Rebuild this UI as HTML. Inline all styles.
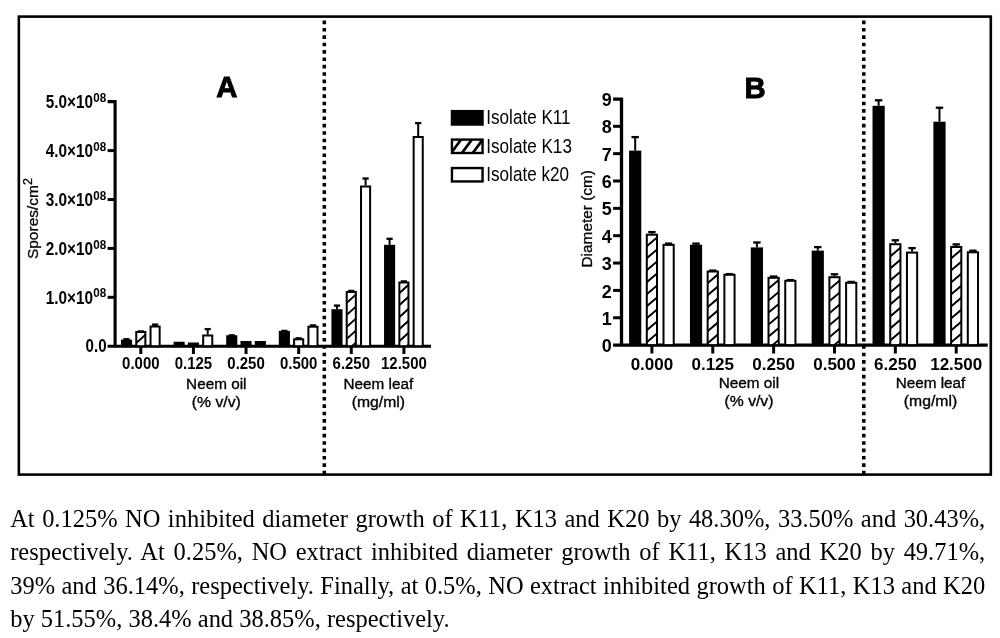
<!DOCTYPE html>
<html><head><meta charset="utf-8"><style>
html,body{margin:0;padding:0;background:#fff;width:1000px;height:638px;overflow:hidden;position:relative}
body{filter:grayscale(1)}
.ln{position:absolute;left:10.2px;width:974px;font-family:"Liberation Serif",serif;font-size:24.48px;line-height:33.1px;white-space:nowrap;color:#000}
.j{text-align:justify;text-align-last:justify;white-space:normal}
</style></head><body>
<svg width="1000" height="480" viewBox="0 0 1000 480" style="position:absolute;left:0;top:0">

<style>
text{font-family:"Liberation Sans",sans-serif;fill:#000}
.b{font-weight:bold}
</style>
<rect x="18.85" y="16.6" width="971.95" height="458" fill="none" stroke="#000" stroke-width="2.6"/><line x1="324.3" y1="20.55" x2="324.3" y2="474" stroke="#000" stroke-width="3.5" stroke-dasharray="3.6 3.78"/><line x1="863.8" y1="20.55" x2="863.8" y2="474" stroke="#000" stroke-width="3.5" stroke-dasharray="3.6 3.78"/><path d="M107.6,101.6 H115.1 V346.2 M107.6,346.2 H431" fill="none" stroke="#000" stroke-width="3.1"/><line x1="107.6" y1="297.3" x2="115" y2="297.3" stroke="#000" stroke-width="3"/><line x1="107.6" y1="248.4" x2="115" y2="248.4" stroke="#000" stroke-width="3"/><line x1="107.6" y1="199.5" x2="115" y2="199.5" stroke="#000" stroke-width="3"/><line x1="107.6" y1="150.6" x2="115" y2="150.6" stroke="#000" stroke-width="3"/><line x1="140.8" y1="346.2" x2="140.8" y2="354" stroke="#000" stroke-width="3"/><line x1="193.42" y1="346.2" x2="193.42" y2="354" stroke="#000" stroke-width="3"/><line x1="246.04" y1="346.2" x2="246.04" y2="354" stroke="#000" stroke-width="3"/><line x1="298.66" y1="346.2" x2="298.66" y2="354" stroke="#000" stroke-width="3"/><line x1="351.28" y1="346.2" x2="351.28" y2="354" stroke="#000" stroke-width="3"/><line x1="403.9" y1="346.2" x2="403.9" y2="354" stroke="#000" stroke-width="3"/><line x1="126.5" y1="339.6" x2="126.5" y2="339.2" stroke="#000" stroke-width="2"/>
<line x1="123.4" y1="339.2" x2="129.6" y2="339.2" stroke="#000" stroke-width="2.3"/>
<rect x="121.95" y="340.6" width="9.1" height="5.6" fill="#000"/>
<rect x="121.95" y="340.6" width="9.1" height="5.6" fill="none" stroke="#000" stroke-width="2.0"/>
<line x1="140.8" y1="331" x2="140.8" y2="331.4" stroke="#000" stroke-width="2"/>
<line x1="137.7" y1="331.4" x2="143.9" y2="331.4" stroke="#000" stroke-width="2.3"/>
<rect x="136.25" y="332" width="9.1" height="14.2" fill="#fff"/>
<path d="M134.25,332.85L147.35,321.06M134.25,344.85L147.35,333.06M134.25,356.85L147.35,345.06" stroke="#000" stroke-width="2" clip-path="url(#ca0)"/>
<rect x="136.25" y="332" width="9.1" height="14.2" fill="none" stroke="#000" stroke-width="2.0"/>
<line x1="155.1" y1="325.5" x2="155.1" y2="324.6" stroke="#000" stroke-width="2"/>
<line x1="152" y1="324.6" x2="158.2" y2="324.6" stroke="#000" stroke-width="2.3"/>
<rect x="150.55" y="326.5" width="9.1" height="19.7" fill="#fff"/>
<rect x="150.55" y="326.5" width="9.1" height="19.7" fill="none" stroke="#000" stroke-width="2.0"/>
<rect x="174.57" y="342.75" width="9.1" height="3.45" fill="#000"/>
<rect x="174.57" y="342.75" width="9.1" height="3.45" fill="none" stroke="#000" stroke-width="2.0"/>
<rect x="188.87" y="343.5" width="9.1" height="2.7" fill="#000"/>
<rect x="188.87" y="343.5" width="9.1" height="2.7" fill="none" stroke="#000" stroke-width="2.0"/>
<line x1="207.72" y1="334.5" x2="207.72" y2="329.1" stroke="#000" stroke-width="2"/>
<line x1="204.62" y1="329.1" x2="210.82" y2="329.1" stroke="#000" stroke-width="2.3"/>
<rect x="203.17" y="335.5" width="9.1" height="10.7" fill="#fff"/>
<rect x="203.17" y="335.5" width="9.1" height="10.7" fill="none" stroke="#000" stroke-width="2.0"/>
<line x1="231.74" y1="335.25" x2="231.74" y2="335.35" stroke="#000" stroke-width="2"/>
<line x1="228.64" y1="335.35" x2="234.84" y2="335.35" stroke="#000" stroke-width="2.3"/>
<rect x="227.19" y="336.25" width="9.1" height="9.95" fill="#000"/>
<rect x="227.19" y="336.25" width="9.1" height="9.95" fill="none" stroke="#000" stroke-width="2.0"/>
<rect x="241.49" y="342" width="9.1" height="4.2" fill="#000"/>
<rect x="241.49" y="342" width="9.1" height="4.2" fill="none" stroke="#000" stroke-width="2.0"/>
<rect x="255.79" y="342" width="9.1" height="4.2" fill="#000"/>
<rect x="255.79" y="342" width="9.1" height="4.2" fill="none" stroke="#000" stroke-width="2.0"/>
<line x1="284.36" y1="330.9" x2="284.36" y2="330.9" stroke="#000" stroke-width="2"/>
<line x1="281.26" y1="330.9" x2="287.46" y2="330.9" stroke="#000" stroke-width="2.3"/>
<rect x="279.81" y="331.9" width="9.1" height="14.3" fill="#000"/>
<rect x="279.81" y="331.9" width="9.1" height="14.3" fill="none" stroke="#000" stroke-width="2.0"/>
<line x1="298.66" y1="338.3" x2="298.66" y2="338.3" stroke="#000" stroke-width="2"/>
<line x1="295.56" y1="338.3" x2="301.76" y2="338.3" stroke="#000" stroke-width="2.3"/>
<rect x="294.11" y="339.3" width="9.1" height="6.9" fill="#fff"/>
<rect x="294.11" y="339.3" width="9.1" height="6.9" fill="none" stroke="#000" stroke-width="2.0"/>
<line x1="312.96" y1="325.7" x2="312.96" y2="325.4" stroke="#000" stroke-width="2"/>
<line x1="309.86" y1="325.4" x2="316.06" y2="325.4" stroke="#000" stroke-width="2.3"/>
<rect x="308.41" y="326.7" width="9.1" height="19.5" fill="#fff"/>
<rect x="308.41" y="326.7" width="9.1" height="19.5" fill="none" stroke="#000" stroke-width="2.0"/>
<line x1="336.98" y1="309.2" x2="336.98" y2="305.6" stroke="#000" stroke-width="2"/>
<line x1="333.88" y1="305.6" x2="340.08" y2="305.6" stroke="#000" stroke-width="2.3"/>
<rect x="332.43" y="310.2" width="9.1" height="36" fill="#000"/>
<rect x="332.43" y="310.2" width="9.1" height="36" fill="none" stroke="#000" stroke-width="2.0"/>
<line x1="351.28" y1="291" x2="351.28" y2="290.9" stroke="#000" stroke-width="2"/>
<line x1="348.18" y1="290.9" x2="354.38" y2="290.9" stroke="#000" stroke-width="2.3"/>
<rect x="346.73" y="292" width="9.1" height="54.2" fill="#fff"/>
<path d="M344.73,292.65L357.83,280.86M344.73,304.65L357.83,292.86M344.73,316.65L357.83,304.86M344.73,328.65L357.83,316.86M344.73,340.65L357.83,328.86M344.73,352.65L357.83,340.86" stroke="#000" stroke-width="2" clip-path="url(#ca4)"/>
<rect x="346.73" y="292" width="9.1" height="54.2" fill="none" stroke="#000" stroke-width="2.0"/>
<line x1="365.58" y1="185.5" x2="365.58" y2="178.5" stroke="#000" stroke-width="2"/>
<line x1="362.48" y1="178.5" x2="368.68" y2="178.5" stroke="#000" stroke-width="2.3"/>
<rect x="361.03" y="186.5" width="9.1" height="159.7" fill="#fff"/>
<rect x="361.03" y="186.5" width="9.1" height="159.7" fill="none" stroke="#000" stroke-width="2.0"/>
<line x1="389.6" y1="244.8" x2="389.6" y2="238.8" stroke="#000" stroke-width="2"/>
<line x1="386.5" y1="238.8" x2="392.7" y2="238.8" stroke="#000" stroke-width="2.3"/>
<rect x="385.05" y="245.8" width="9.1" height="100.4" fill="#000"/>
<rect x="385.05" y="245.8" width="9.1" height="100.4" fill="none" stroke="#000" stroke-width="2.0"/>
<line x1="403.9" y1="281.5" x2="403.9" y2="281.4" stroke="#000" stroke-width="2"/>
<line x1="400.8" y1="281.4" x2="407" y2="281.4" stroke="#000" stroke-width="2.3"/>
<rect x="399.35" y="282.5" width="9.1" height="63.7" fill="#fff"/>
<path d="M397.35,282.88L410.45,271.09M397.35,294.88L410.45,283.09M397.35,306.88L410.45,295.09M397.35,318.88L410.45,307.09M397.35,330.88L410.45,319.09M397.35,342.88L410.45,331.09M397.35,354.88L410.45,343.09" stroke="#000" stroke-width="2" clip-path="url(#ca5)"/>
<rect x="399.35" y="282.5" width="9.1" height="63.7" fill="none" stroke="#000" stroke-width="2.0"/>
<line x1="418.2" y1="136" x2="418.2" y2="123.1" stroke="#000" stroke-width="2"/>
<line x1="415.1" y1="123.1" x2="421.3" y2="123.1" stroke="#000" stroke-width="2.3"/>
<rect x="413.65" y="137" width="9.1" height="209.2" fill="#fff"/>
<rect x="413.65" y="137" width="9.1" height="209.2" fill="none" stroke="#000" stroke-width="2.0"/><path d="M613.1,99.05 H621.5 V345.1 M613.1,345.1 H987.7" fill="none" stroke="#000" stroke-width="3.3"/><line x1="613.1" y1="317.75" x2="621" y2="317.75" stroke="#000" stroke-width="3"/><line x1="613.1" y1="290.4" x2="621" y2="290.4" stroke="#000" stroke-width="3"/><line x1="613.1" y1="263.05" x2="621" y2="263.05" stroke="#000" stroke-width="3"/><line x1="613.1" y1="235.7" x2="621" y2="235.7" stroke="#000" stroke-width="3"/><line x1="613.1" y1="208.35" x2="621" y2="208.35" stroke="#000" stroke-width="3"/><line x1="613.1" y1="181" x2="621" y2="181" stroke="#000" stroke-width="3"/><line x1="613.1" y1="153.65" x2="621" y2="153.65" stroke="#000" stroke-width="3"/><line x1="613.1" y1="126.3" x2="621" y2="126.3" stroke="#000" stroke-width="3"/><line x1="651.9" y1="345.1" x2="651.9" y2="353.5" stroke="#000" stroke-width="3"/><line x1="712.76" y1="345.1" x2="712.76" y2="353.5" stroke="#000" stroke-width="3"/><line x1="773.62" y1="345.1" x2="773.62" y2="353.5" stroke="#000" stroke-width="3"/><line x1="834.48" y1="345.1" x2="834.48" y2="353.5" stroke="#000" stroke-width="3"/><line x1="895.34" y1="345.1" x2="895.34" y2="353.5" stroke="#000" stroke-width="3"/><line x1="956.2" y1="345.1" x2="956.2" y2="353.5" stroke="#000" stroke-width="3"/><line x1="635.18" y1="150.6" x2="635.18" y2="137.1" stroke="#000" stroke-width="2"/>
<line x1="631.48" y1="137.1" x2="638.88" y2="137.1" stroke="#000" stroke-width="2.3"/>
<rect x="630.08" y="151.6" width="10.2" height="193.5" fill="#000"/>
<rect x="630.08" y="151.6" width="10.2" height="193.5" fill="none" stroke="#000" stroke-width="2.0"/>
<line x1="651.9" y1="233.7" x2="651.9" y2="232.1" stroke="#000" stroke-width="2"/>
<line x1="648.2" y1="232.1" x2="655.6" y2="232.1" stroke="#000" stroke-width="2.3"/>
<rect x="646.8" y="234.7" width="10.2" height="110.4" fill="#fff"/>
<path d="M644.8,235.9L659,223.83M644.8,247.9L659,235.83M644.8,259.9L659,247.83M644.8,271.9L659,259.83M644.8,283.9L659,271.83M644.8,295.9L659,283.83M644.8,307.9L659,295.83M644.8,319.9L659,307.83M644.8,331.9L659,319.83M644.8,343.9L659,331.83M644.8,355.9L659,343.83" stroke="#000" stroke-width="2" clip-path="url(#cb0)"/>
<rect x="646.8" y="234.7" width="10.2" height="110.4" fill="none" stroke="#000" stroke-width="2.0"/>
<line x1="668.62" y1="243.9" x2="668.62" y2="243.6" stroke="#000" stroke-width="2"/>
<line x1="664.92" y1="243.6" x2="672.32" y2="243.6" stroke="#000" stroke-width="2.3"/>
<rect x="663.52" y="244.9" width="10.2" height="100.2" fill="#fff"/>
<rect x="663.52" y="244.9" width="10.2" height="100.2" fill="none" stroke="#000" stroke-width="2.0"/>
<line x1="696.04" y1="244.7" x2="696.04" y2="243.6" stroke="#000" stroke-width="2"/>
<line x1="692.34" y1="243.6" x2="699.74" y2="243.6" stroke="#000" stroke-width="2.3"/>
<rect x="690.94" y="245.7" width="10.2" height="99.4" fill="#000"/>
<rect x="690.94" y="245.7" width="10.2" height="99.4" fill="none" stroke="#000" stroke-width="2.0"/>
<line x1="712.76" y1="270.5" x2="712.76" y2="270.6" stroke="#000" stroke-width="2"/>
<line x1="709.06" y1="270.6" x2="716.46" y2="270.6" stroke="#000" stroke-width="2.3"/>
<rect x="707.66" y="271.5" width="10.2" height="73.6" fill="#fff"/>
<path d="M705.66,272.87L719.86,260.8M705.66,284.87L719.86,272.8M705.66,296.87L719.86,284.8M705.66,308.87L719.86,296.8M705.66,320.87L719.86,308.8M705.66,332.87L719.86,320.8M705.66,344.87L719.86,332.8M705.66,356.87L719.86,344.8" stroke="#000" stroke-width="2" clip-path="url(#cb1)"/>
<rect x="707.66" y="271.5" width="10.2" height="73.6" fill="none" stroke="#000" stroke-width="2.0"/>
<line x1="729.48" y1="273.8" x2="729.48" y2="274.1" stroke="#000" stroke-width="2"/>
<line x1="725.78" y1="274.1" x2="733.18" y2="274.1" stroke="#000" stroke-width="2.3"/>
<rect x="724.38" y="274.8" width="10.2" height="70.3" fill="#fff"/>
<rect x="724.38" y="274.8" width="10.2" height="70.3" fill="none" stroke="#000" stroke-width="2.0"/>
<line x1="756.9" y1="247.4" x2="756.9" y2="242.5" stroke="#000" stroke-width="2"/>
<line x1="753.2" y1="242.5" x2="760.6" y2="242.5" stroke="#000" stroke-width="2.3"/>
<rect x="751.8" y="248.4" width="10.2" height="96.7" fill="#000"/>
<rect x="751.8" y="248.4" width="10.2" height="96.7" fill="none" stroke="#000" stroke-width="2.0"/>
<line x1="773.62" y1="276.8" x2="773.62" y2="276.5" stroke="#000" stroke-width="2"/>
<line x1="769.92" y1="276.5" x2="777.32" y2="276.5" stroke="#000" stroke-width="2.3"/>
<rect x="768.52" y="277.8" width="10.2" height="67.3" fill="#fff"/>
<path d="M766.52,278.31L780.72,266.24M766.52,290.31L780.72,278.24M766.52,302.31L780.72,290.24M766.52,314.31L780.72,302.24M766.52,326.31L780.72,314.24M766.52,338.31L780.72,326.24M766.52,350.31L780.72,338.24" stroke="#000" stroke-width="2" clip-path="url(#cb2)"/>
<rect x="768.52" y="277.8" width="10.2" height="67.3" fill="none" stroke="#000" stroke-width="2.0"/>
<line x1="790.34" y1="279.8" x2="790.34" y2="280.1" stroke="#000" stroke-width="2"/>
<line x1="786.64" y1="280.1" x2="794.04" y2="280.1" stroke="#000" stroke-width="2.3"/>
<rect x="785.24" y="280.8" width="10.2" height="64.3" fill="#fff"/>
<rect x="785.24" y="280.8" width="10.2" height="64.3" fill="none" stroke="#000" stroke-width="2.0"/>
<line x1="817.76" y1="250.6" x2="817.76" y2="247.1" stroke="#000" stroke-width="2"/>
<line x1="814.06" y1="247.1" x2="821.46" y2="247.1" stroke="#000" stroke-width="2.3"/>
<rect x="812.66" y="251.6" width="10.2" height="93.5" fill="#000"/>
<rect x="812.66" y="251.6" width="10.2" height="93.5" fill="none" stroke="#000" stroke-width="2.0"/>
<line x1="834.48" y1="276.2" x2="834.48" y2="274.3" stroke="#000" stroke-width="2"/>
<line x1="830.78" y1="274.3" x2="838.18" y2="274.3" stroke="#000" stroke-width="2.3"/>
<rect x="829.38" y="277.2" width="10.2" height="67.9" fill="#fff"/>
<path d="M827.38,278.93L841.58,266.86M827.38,290.93L841.58,278.86M827.38,302.93L841.58,290.86M827.38,314.93L841.58,302.86M827.38,326.93L841.58,314.86M827.38,338.93L841.58,326.86M827.38,350.93L841.58,338.86" stroke="#000" stroke-width="2" clip-path="url(#cb3)"/>
<rect x="829.38" y="277.2" width="10.2" height="67.9" fill="none" stroke="#000" stroke-width="2.0"/>
<line x1="851.2" y1="281.8" x2="851.2" y2="281.9" stroke="#000" stroke-width="2"/>
<line x1="847.5" y1="281.9" x2="854.9" y2="281.9" stroke="#000" stroke-width="2.3"/>
<rect x="846.1" y="282.8" width="10.2" height="62.3" fill="#fff"/>
<rect x="846.1" y="282.8" width="10.2" height="62.3" fill="none" stroke="#000" stroke-width="2.0"/>
<line x1="878.62" y1="105.8" x2="878.62" y2="100.3" stroke="#000" stroke-width="2"/>
<line x1="874.92" y1="100.3" x2="882.32" y2="100.3" stroke="#000" stroke-width="2.3"/>
<rect x="873.52" y="106.8" width="10.2" height="238.3" fill="#000"/>
<rect x="873.52" y="106.8" width="10.2" height="238.3" fill="none" stroke="#000" stroke-width="2.0"/>
<line x1="895.34" y1="243.2" x2="895.34" y2="240.3" stroke="#000" stroke-width="2"/>
<line x1="891.64" y1="240.3" x2="899.04" y2="240.3" stroke="#000" stroke-width="2.3"/>
<rect x="890.24" y="244.2" width="10.2" height="100.9" fill="#fff"/>
<path d="M888.24,246.1L902.44,234.03M888.24,258.1L902.44,246.03M888.24,270.1L902.44,258.03M888.24,282.1L902.44,270.03M888.24,294.1L902.44,282.03M888.24,306.1L902.44,294.03M888.24,318.1L902.44,306.03M888.24,330.1L902.44,318.03M888.24,342.1L902.44,330.03M888.24,354.1L902.44,342.03" stroke="#000" stroke-width="2" clip-path="url(#cb4)"/>
<rect x="890.24" y="244.2" width="10.2" height="100.9" fill="none" stroke="#000" stroke-width="2.0"/>
<line x1="912.06" y1="251.6" x2="912.06" y2="248.1" stroke="#000" stroke-width="2"/>
<line x1="908.36" y1="248.1" x2="915.76" y2="248.1" stroke="#000" stroke-width="2.3"/>
<rect x="906.96" y="252.6" width="10.2" height="92.5" fill="#fff"/>
<rect x="906.96" y="252.6" width="10.2" height="92.5" fill="none" stroke="#000" stroke-width="2.0"/>
<line x1="939.48" y1="121.7" x2="939.48" y2="107.7" stroke="#000" stroke-width="2"/>
<line x1="935.78" y1="107.7" x2="943.18" y2="107.7" stroke="#000" stroke-width="2.3"/>
<rect x="934.38" y="122.7" width="10.2" height="222.4" fill="#000"/>
<rect x="934.38" y="122.7" width="10.2" height="222.4" fill="none" stroke="#000" stroke-width="2.0"/>
<line x1="956.2" y1="246" x2="956.2" y2="244.4" stroke="#000" stroke-width="2"/>
<line x1="952.5" y1="244.4" x2="959.9" y2="244.4" stroke="#000" stroke-width="2.3"/>
<rect x="951.1" y="247" width="10.2" height="98.1" fill="#fff"/>
<path d="M949.1,248.06L963.3,235.99M949.1,260.06L963.3,247.99M949.1,272.06L963.3,259.99M949.1,284.06L963.3,271.99M949.1,296.06L963.3,283.99M949.1,308.06L963.3,295.99M949.1,320.06L963.3,307.99M949.1,332.06L963.3,319.99M949.1,344.06L963.3,331.99M949.1,356.06L963.3,343.99" stroke="#000" stroke-width="2" clip-path="url(#cb5)"/>
<rect x="951.1" y="247" width="10.2" height="98.1" fill="none" stroke="#000" stroke-width="2.0"/>
<line x1="972.92" y1="251.3" x2="972.92" y2="250.7" stroke="#000" stroke-width="2"/>
<line x1="969.22" y1="250.7" x2="976.62" y2="250.7" stroke="#000" stroke-width="2.3"/>
<rect x="967.82" y="252.3" width="10.2" height="92.8" fill="#fff"/>
<rect x="967.82" y="252.3" width="10.2" height="92.8" fill="none" stroke="#000" stroke-width="2.0"/><rect x="451.95" y="111.15" width="30.6" height="13.4" fill="#000"/><rect x="451.95" y="111.15" width="30.6" height="13.4" fill="none" stroke="#000" stroke-width="2.4"/><text transform="translate(486.3,124.2) scale(0.835,1)" font-size="20.5">Isolate K11</text><rect x="451.95" y="139.6" width="30.6" height="13.4" fill="#fff"/><path d="M442.6,135.3L426.22,157.56M453.4,135.3L437.02,157.56M464.2,135.3L447.82,157.56M475,135.3L458.62,157.56M485.8,135.3L469.42,157.56M496.6,135.3L480.22,157.56" stroke="#000" stroke-width="2.7" clip-path="url(#cl)"/><rect x="451.95" y="139.6" width="30.6" height="13.4" fill="none" stroke="#000" stroke-width="2.4"/><text transform="translate(486.3,152.65) scale(0.835,1)" font-size="20.5">Isolate K13</text><rect x="451.95" y="168.05" width="30.6" height="13.4" fill="#fff"/><rect x="451.95" y="168.05" width="30.6" height="13.4" fill="none" stroke="#000" stroke-width="2.4"/><text transform="translate(486.3,181.1) scale(0.835,1)" font-size="20.5">Isolate k20</text><text x="226.9" y="97.4" class="b" font-size="29.3" text-anchor="middle" stroke="#000" stroke-width="0.9">A</text><text x="755.2" y="97.6" class="b" font-size="29.3" text-anchor="middle" stroke="#000" stroke-width="0.9">B</text><text transform="translate(106.5,352.1) scale(0.8,1)" class="b" font-size="18.8" text-anchor="end">0.0</text><text transform="translate(93,303.9) scale(0.815,1)" class="b" font-size="18.8" text-anchor="end">1.0×10</text><text transform="translate(106.2,297.4) scale(0.95,1)" class="b" font-size="12.3" text-anchor="end">08</text><text transform="translate(93,255) scale(0.815,1)" class="b" font-size="18.8" text-anchor="end">2.0×10</text><text transform="translate(106.2,248.5) scale(0.95,1)" class="b" font-size="12.3" text-anchor="end">08</text><text transform="translate(93,206.1) scale(0.815,1)" class="b" font-size="18.8" text-anchor="end">3.0×10</text><text transform="translate(106.2,199.6) scale(0.95,1)" class="b" font-size="12.3" text-anchor="end">08</text><text transform="translate(93,157.2) scale(0.815,1)" class="b" font-size="18.8" text-anchor="end">4.0×10</text><text transform="translate(106.2,150.7) scale(0.95,1)" class="b" font-size="12.3" text-anchor="end">08</text><text transform="translate(93,108.3) scale(0.815,1)" class="b" font-size="18.8" text-anchor="end">5.0×10</text><text transform="translate(106.2,101.8) scale(0.95,1)" class="b" font-size="12.3" text-anchor="end">08</text><text transform="translate(140.8,369.4) scale(0.88,1)" class="b" font-size="17" text-anchor="middle">0.000</text><text transform="translate(193.42,369.4) scale(0.88,1)" class="b" font-size="17" text-anchor="middle">0.125</text><text transform="translate(246.04,369.4) scale(0.88,1)" class="b" font-size="17" text-anchor="middle">0.250</text><text transform="translate(298.66,369.4) scale(0.88,1)" class="b" font-size="17" text-anchor="middle">0.500</text><text transform="translate(351.28,369.4) scale(0.88,1)" class="b" font-size="17" text-anchor="middle">6.250</text><text transform="translate(403.9,369.4) scale(0.88,1)" class="b" font-size="17" text-anchor="middle">12.500</text><text x="651.9" y="369.5" class="b" font-size="17" text-anchor="middle">0.000</text><text x="712.76" y="369.5" class="b" font-size="17" text-anchor="middle">0.125</text><text x="773.62" y="369.5" class="b" font-size="17" text-anchor="middle">0.250</text><text x="834.48" y="369.5" class="b" font-size="17" text-anchor="middle">0.500</text><text x="895.34" y="369.5" class="b" font-size="17" text-anchor="middle">6.250</text><text x="956.2" y="369.5" class="b" font-size="17" text-anchor="middle">12.500</text><text x="611.8" y="352.2" class="b" font-size="18" text-anchor="end">0</text><text x="611.8" y="324.85" class="b" font-size="18" text-anchor="end">1</text><text x="611.8" y="297.5" class="b" font-size="18" text-anchor="end">2</text><text x="611.8" y="270.15" class="b" font-size="18" text-anchor="end">3</text><text x="611.8" y="242.8" class="b" font-size="18" text-anchor="end">4</text><text x="611.8" y="215.45" class="b" font-size="18" text-anchor="end">5</text><text x="611.8" y="188.1" class="b" font-size="18" text-anchor="end">6</text><text x="611.8" y="160.75" class="b" font-size="18" text-anchor="end">7</text><text x="611.8" y="133.4" class="b" font-size="18" text-anchor="end">8</text><text x="611.8" y="106.05" class="b" font-size="18" text-anchor="end">9</text><text x="216.3" y="389.1" font-size="15.3" text-anchor="middle" stroke="#000" stroke-width="0.35">Neem oil</text><text transform="translate(216.3,407.0) scale(1.05,1)" font-size="15" text-anchor="middle" stroke="#000" stroke-width="0.35">(% v/v)</text><text x="378.4" y="389.0" font-size="15.3" text-anchor="middle" stroke="#000" stroke-width="0.35">Neem leaf</text><text transform="translate(378.4,407.0) scale(1.05,1)" font-size="15" text-anchor="middle" stroke="#000" stroke-width="0.35">(mg/ml)</text><text x="749" y="388.0" font-size="15.3" text-anchor="middle" stroke="#000" stroke-width="0.35">Neem oil</text><text transform="translate(749,405.8) scale(1.05,1)" font-size="15" text-anchor="middle" stroke="#000" stroke-width="0.35">(% v/v)</text><text x="930.5" y="388.0" font-size="15.3" text-anchor="middle" stroke="#000" stroke-width="0.35">Neem leaf</text><text transform="translate(930.5,405.8) scale(1.05,1)" font-size="15" text-anchor="middle" stroke="#000" stroke-width="0.35">(mg/ml)</text><text transform="translate(38,259.1) rotate(-90)" font-size="15.5" stroke="#000" stroke-width="0.3">Spores/cm<tspan font-size="12.5" dy="-6">2</tspan></text><text transform="translate(592.2,267.5) rotate(-90)" font-size="15.4" stroke="#000" stroke-width="0.3">Diameter (cm)</text><defs><clipPath id="ca0"><rect x="136.25" y="332" width="9.1" height="14.2"/></clipPath><clipPath id="ca4"><rect x="346.73" y="292" width="9.1" height="54.2"/></clipPath><clipPath id="ca5"><rect x="399.35" y="282.5" width="9.1" height="63.7"/></clipPath><clipPath id="cb0"><rect x="646.8" y="234.7" width="10.2" height="110.4"/></clipPath><clipPath id="cb1"><rect x="707.66" y="271.5" width="10.2" height="73.6"/></clipPath><clipPath id="cb2"><rect x="768.52" y="277.8" width="10.2" height="67.3"/></clipPath><clipPath id="cb3"><rect x="829.38" y="277.2" width="10.2" height="67.9"/></clipPath><clipPath id="cb4"><rect x="890.24" y="244.2" width="10.2" height="100.9"/></clipPath><clipPath id="cb5"><rect x="951.1" y="247" width="10.2" height="98.1"/></clipPath><clipPath id="cl"><rect x="451.95" y="139.6" width="30.6" height="13.4"/></clipPath></defs></svg>
<div class="ln" style="top:502.39px;word-spacing:1.3604px;">At 0.125% NO inhibited diameter growth of K11, K13 and K20 by 48.30%, 33.50% and 30.43%,</div><div class="ln" style="top:535.49px;word-spacing:2.6440px;">respectively. At 0.25%, NO extract inhibited diameter growth of K11, K13 and K20 by 49.71%,</div><div class="ln" style="top:568.59px;word-spacing:0.3073px;">39% and 36.14%, respectively. Finally, at 0.5%, NO extract inhibited growth of K11, K13 and K20</div><div class="ln" style="top:601.69px;">by 51.55%, 38.4% and 38.85%, respectively.</div>
</body></html>
